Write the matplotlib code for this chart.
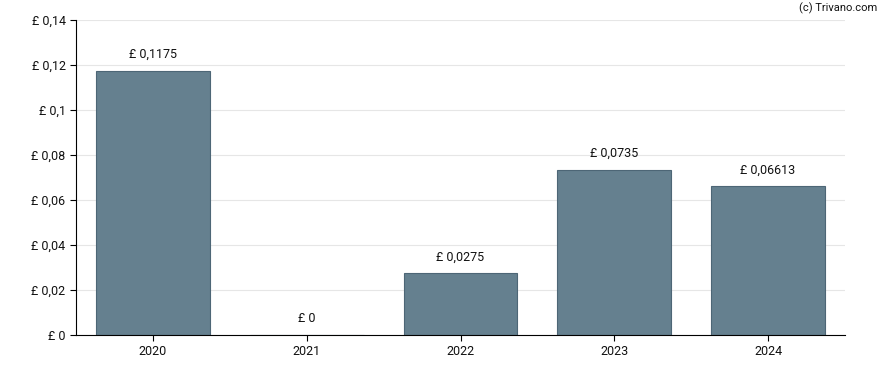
import matplotlib as mpl
import matplotlib.pyplot as plt

years = ['2020', '2021', '2022', '2023', '2024']
dividends = [0.1175, 0.0, 0.0275, 0.0735, 0.06613]
labels = ['£ 0,1175', '£ 0', '£ 0,0275', '£ 0,0735', '£ 0,06613']
yticks = [0, 0.02, 0.04, 0.06, 0.08, 0.1, 0.12, 0.14]
ytick_labels = ['£ 0', '£ 0,02', '£ 0,04', '£ 0,06', '£ 0,08', '£ 0,1', '£ 0,12', '£ 0,14']

mpl.rcParams['font.family'] = ['Roboto', 'DejaVu Sans']
mpl.rcParams['font.size'] = 9

fig = plt.figure(figsize=(8.88, 3.70), dpi=100)
ax = fig.add_axes([76/888, 35/370, (845-76)/888, 315/370])

x = range(len(years))
ax.bar(x, dividends, width=0.74, color='#65808f', edgecolor='#4d6676', linewidth=0.8, zorder=2)
for xi, v, lab in zip(x, dividends, labels):
    ax.annotate(lab, (xi, v), xytext=(0, 7), textcoords='offset points',
                ha='center', va='bottom', color='#111111')

ax.set_xlim(-0.5, len(years) - 0.5)
ax.set_ylim(0, 0.14)
ax.set_xticks(list(x))
ax.set_xticklabels(years)
ax.set_yticks(yticks)
ax.set_yticklabels(ytick_labels)
ax.grid(axis='y', color='#e6e6e6', linewidth=0.8, zorder=0)
ax.spines['top'].set_visible(False)
ax.spines['right'].set_visible(False)
ax.tick_params(axis='both', length=4, colors='black', labelcolor='#111111')
ax.tick_params(axis='x', pad=3)

fig.text(877/888, 1 - 8/370, '(c) Trivano.com', ha='right', va='center', fontsize=8, color='#111111')

plt.savefig('out.png', dpi=100)
